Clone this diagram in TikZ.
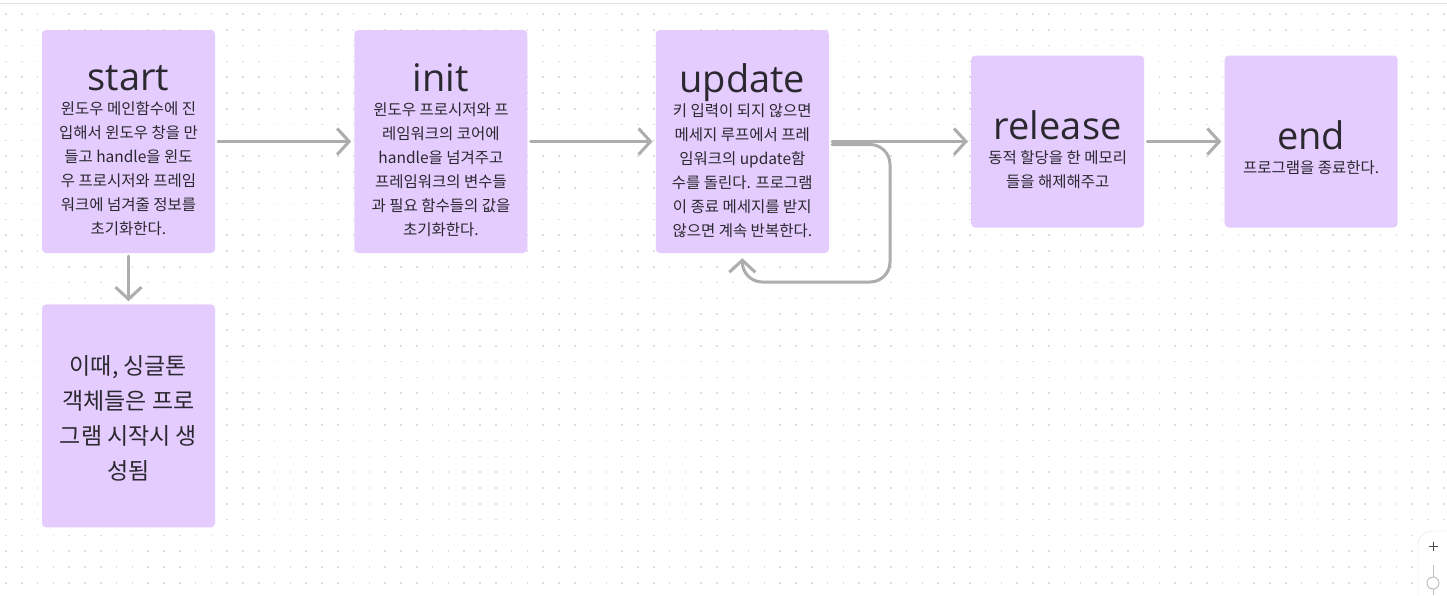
\documentclass[tikz,border=0pt]{standalone}
\usepackage{fontspec}
\setmainfont{Noto Sans CJK KR}
\newfontfamily\titlefont{Open Sans}
\usetikzlibrary{positioning}
\usetikzlibrary{arrows.meta}
\definecolor{cardfill}{HTML}{E4CCFF}
\definecolor{cardtext}{HTML}{2B2830}
\definecolor{arrowgray}{HTML}{ADADAD}
\definecolor{dotgray}{HTML}{DEDEDE}
\definecolor{framegray}{HTML}{E3E3E3}

\begin{document}
\begin{tikzpicture}[
            x=1pt, y=-1pt,
            violetcard/.style={rectangle, rounded corners=4pt, fill=cardfill, inner sep=0pt, minimum width=173pt, minimum height=223pt},
            shortcard/.style={violetcard, minimum height=172pt},
            cardlabel/.style={align=center, text=cardtext, inner sep=0pt, font=\fontsize{15.5}{24}\selectfont},
            bigcardlabel/.style={cardlabel, font=\fontsize{23}{35}\selectfont},
            flowarrow/.style={-{Straight Barb[length=12pt, width=26pt, line width=3pt]}, line width=3pt, arrowgray, line cap=round, shorten <=3pt, shorten >=3pt},
            node distance=139pt,
            ]

            \useasboundingbox (0,0) rectangle (1447,595);
            \fill[white] (0,0) rectangle (1447,595);

            % dotted canvas
            \foreach \i in {0,...,91} {
                \foreach \j in {0,...,37} {
                    \fill[dotgray] (6+15.8*\i-0.75, 14+15.8*\j-0.75) rectangle ++(1.5,1.5);
                }
            }
            \draw[framegray, line width=1pt] (0,3.5) -- (1447,3.5);

            % cards
            \node[violetcard] (start) at (128.5,141.5) {};
            \node[violetcard, right=139pt of start] (init) {};
            \node[violetcard, right=128pt of init] (update) {};
            \node[shortcard, right=142pt of update] (release) {};
            \node[shortcard, right=80pt of release] (end) {};
            \node[violetcard, below=51pt of start] (singleton) {};

            \node[cardlabel] (starttxt) at ([yshift=-9pt]start.center)
                {{\titlefont\fontsize{38}{38}\selectfont start}\\
                 윈도우 메인함수에 진\\ 입해서 윈도우 창을 만\\ 들고 handle을 윈도\\
                 우 프로시저와 프레임\\ 워크에 넘겨줄 정보를\\ 초기화한다.};
            \node[cardlabel] (inittxt) at ([yshift=-9pt]init.center)
                {{\titlefont\fontsize{38}{38}\selectfont init}\\
                 윈도우 프로시저와 프\\ 레임워크의 코어에\\ handle을 넘겨주고\\
                 프레임워크의 변수들\\ 과 필요 함수들의 값을\\ 초기화한다.};
            \node[cardlabel] (updatetxt) at ([yshift=-9pt]update.center)
                {{\titlefont\fontsize{38}{38}\selectfont update}\\
                 키 입력이 되지 않으면\\ 메세지 루프에서 프레\\ 임워크의 update함\\
                 수를 돌린다. 프로그램\\ 이 종료 메세지를 받지\\ 않으면 계속 반복한다.};
            \node[cardlabel] (releasetxt) at ([yshift=-8pt]release.center)
                {{\titlefont\fontsize{38}{38}\selectfont release}\\
                 동적 할당을 한 메모리\\ 들을 해제해주고};
            \node[cardlabel] (endtxt) at ([yshift=-6pt]end.center)
                {{\titlefont\fontsize{38}{38}\selectfont end}\\
                 프로그램을 종료한다.};
            \node[bigcardlabel] (singletontxt) at ([yshift=-2pt]singleton.center)
                {이때, 싱글톤\\ 객체들은 프로\\ 그램 시작시 생\\ 성됨};

            % connectors
            \draw[flowarrow] (start.east) -- (init.west);
            \draw[flowarrow] (init.east) -- (update.west);
            \draw[flowarrow] (update.east) -- (release.west);
            \draw[flowarrow] (release.east) -- (end.west);
            \draw[flowarrow] (start.south) -- (singleton.north);

            % update loop
            \coordinate (loopcorner) at (890,282);
            \draw[flowarrow, rounded corners=20pt, shorten >=5pt] ([yshift=-3pt]update.east) -| (loopcorner) -| (update.south);

            % zoom control
            \draw[framegray, fill=white, rounded corners=14pt] (1418,600) -- (1418,531) -- (1460,531) -- (1460,600);
            \draw[black!70, line width=1pt] (1428.5,546) -- (1437.5,546) (1433,541.5) -- (1433,550.5);
            \draw[black!25, line width=1pt] (1433,565) -- (1433,595);
            \draw[black!25, fill=white, line width=1pt] (1433,583) circle (6);
\end{tikzpicture}
\end{document}
